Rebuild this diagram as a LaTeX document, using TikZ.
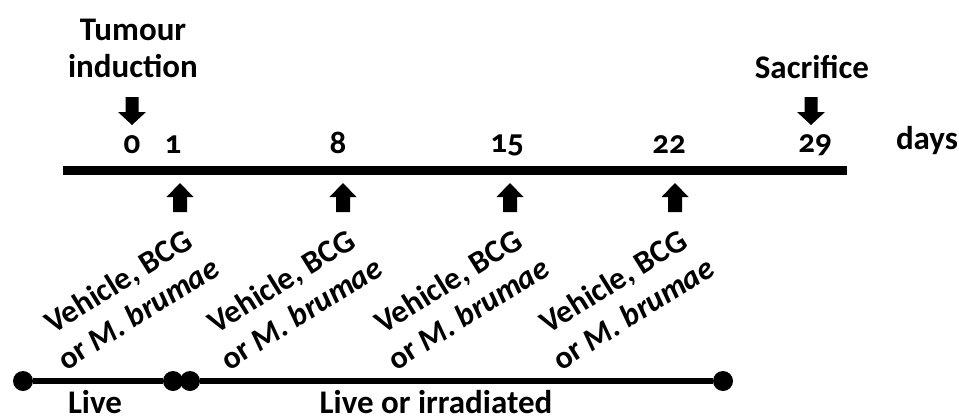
\documentclass[tikz,border=0pt]{standalone}
\usepackage{fontspec}
\setmainfont{Carlito}[Numbers=OldStyle]
\begin{document}
\begin{tikzpicture}[x=1pt,y=-1pt,
  lbl/.style={font=\fontsize{33}{37}\selectfont\bfseries, inner sep=0pt, align=center},
  num/.style={font=\fontsize{33}{36}\selectfont\bfseries, inner sep=0pt},
  treat/.style={font=\fontsize{32}{38}\selectfont\bfseries, inner sep=0pt, align=center, rotate=32},
  dot/.style={circle, fill=black, minimum size=20pt, inner sep=0pt},
  darrow/.pic={\fill (-6.5,-28) -- (6.5,-28) -- (6.5,-13) -- (14,-13) -- (0,0) -- (-14,-13) -- (-6.5,-13) -- cycle;},
  uarrow/.pic={\fill (-7,29) -- (7,29) -- (7,14) -- (13.5,14) -- (0,0) -- (-13.5,14) -- (-7,14) -- cycle;}
]
\useasboundingbox (0,0) rectangle (959,418);

% top labels
\node[lbl] (tumour) at (133,48) {Tumour\\induction};
\node[lbl] (sacrifice) at (812,67) {Sacrifice};
\pic at (132,125) {darrow};
\pic at (811,125) {darrow};

% day numbers
\node[num] (n0) at (132,145) {0};
\node[num] (n1) at (173,145) {1};
\node[num] (n8) at (338,143) {8};
\node[num] (n15) at (507,145) {15};
\node[num] (n22) at (669,145) {22};
\node[num] (n29) at (815,145) {29};
\node[num] (days) at (927,141) {days};

% timeline
\coordinate (tl0) at (63,170);
\coordinate (tl1) at (847,170);
\draw[line width=9pt] (tl0) -- (tl1);

% treatment arrows and labels
\foreach \x/\n in {180/a,343/b,510/c,675/d}{
  \pic at (\x,183) {uarrow};
  \node[treat] (tr\n) at (\x-52,297) {Vehicle, BCG\\or \textit{M. brumae}};
}

% bottom bars
\node[dot] (d1) at (23,381) {};
\node[dot] (d2) at (173,381) {};
\node[dot] (d3) at (190,381) {};
\node[dot] (d4) at (723,381) {};
\draw[line width=6pt] (d1) -- (d2);
\draw[line width=6pt] (d3) -- (d4);
\node[lbl] (live) at (95,402) {Live};
\node[lbl] (liveirr) at (436,402) {Live or irradiated};
\end{tikzpicture}
\end{document}
